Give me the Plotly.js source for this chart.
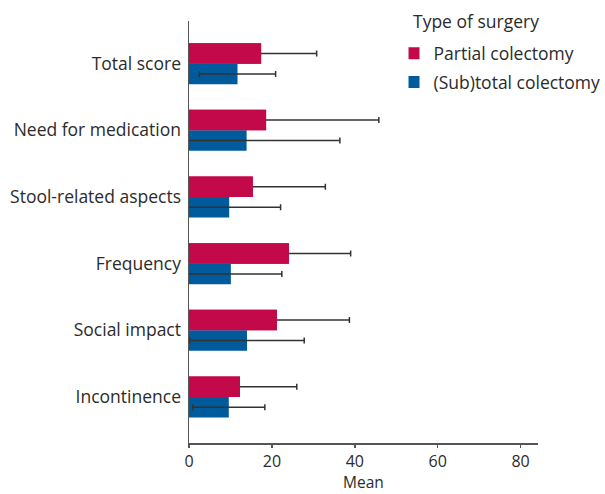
<!DOCTYPE html>
<html>
<head>
<meta charset="utf-8">
<script src="https://cdn.plot.ly/plotly-3.0.1.min.js"></script>
<style>html,body{margin:0;padding:0;background:#fff;}#chart{width:605px;height:494px;}</style>
</head>
<body>
<div id="chart"></div>
<script>
// Categories, bottom to top
var categories = ["Incontinence", "Social impact", "Frequency", "Stool-related aspects", "Need for medication", "Total score"];
// Partial colectomy (means and SD)
var partialMean = [12.3, 21.2, 24.1, 15.4, 18.6, 17.4];
var partialSD   = [13.7, 17.5, 14.9, 17.5, 27.2, 13.4];
// (Sub)total colectomy (means and SD)
var subtotalMean = [9.6, 14.0, 10.1, 9.7, 13.9, 11.7];
var subtotalSD   = [8.7, 13.8, 12.3, 12.4, 22.5, 9.2];
var xTicks = [0, 20, 40, 60, 80];

var fontFam = "Open Sans, sans-serif";
var txt = "#2b2b2b";
var fs = 17.5;
var pink = "#C4094A", blue = "#005B9C";
var barW = 0.3075;

var errStyle = {type: "data", symmetric: true, color: "#333333", thickness: 1.5, width: 3};

var traces = [
  // pink error bars drawn first, so the pink bar hides the lower half
  {
    type: "bar", orientation: "h", name: "Partial colectomy", showlegend: false, legendgroup: "a",
    y: categories, x: partialMean, width: barW, offset: 0,
    marker: {color: pink, line: {width: 0}},
    error_x: Object.assign({array: partialSD}, errStyle),
    hoverinfo: "skip"
  },
  {
    type: "bar", orientation: "h", name: "(Sub)total colectomy", legendrank: 2, legendgroup: "b",
    y: categories, x: subtotalMean, width: barW, offset: -barW,
    marker: {color: blue, line: {width: 0}},
    error_x: Object.assign({array: subtotalSD}, errStyle),
    hoverinfo: "x"
  },
  {
    type: "bar", orientation: "h", name: "Partial colectomy", legendrank: 1, legendgroup: "a",
    y: categories, x: partialMean, width: barW, offset: 0,
    marker: {color: pink, line: {width: 0}},
    hoverinfo: "x"
  }
];

var layout = {
  width: 605, height: 494,
  margin: {l: 189, r: 67, t: 21, b: 51, autoexpand: false},
  paper_bgcolor: "#fff", plot_bgcolor: "#fff",
  font: {family: fontFam, size: fs, color: txt},
  barmode: "overlay",
  showlegend: true,
  legend: {
    x: 0.629, xanchor: "left", y: 0.966, yanchor: "top",
    traceorder: "grouped", tracegroupgap: 3, indentation: -15,
    font: {family: fontFam, size: fs, color: txt},
    bgcolor: "rgba(0,0,0,0)"
  },
  annotations: [
    {
      text: "Type of surgery", xref: "paper", yref: "paper",
      x: 0.636, y: 1.0, xanchor: "left", yanchor: "middle", showarrow: false,
      font: {family: fontFam, size: fs, color: txt}
    },
    {
      text: "Mean", xref: "paper", yref: "paper",
      x: 0.5, y: -0.1209, xanchor: "center", yanchor: "bottom", showarrow: false,
      borderpad: 0,
      font: {family: fontFam, size: 15.5, color: txt}
    }
  ],
  xaxis: {
    range: [0, 84.2], tickvals: xTicks, ticktext: xTicks.map(String),
    showgrid: false, zeroline: false,
    showline: true, linecolor: "#555", linewidth: 1.5,
    ticks: "outside", ticklen: 3, tickwidth: 1.5, tickcolor: "#555",
    tickfont: {family: fontFam, size: 16, color: txt}
  },
  yaxis: {
    type: "category", categoryorder: "array", categoryarray: categories,
    range: [-0.69, 5.64],
    showgrid: false, zeroline: false,
    showline: true, linecolor: "#555", linewidth: 1.5,
    ticks: "", ticklabelstandoff: 3,
    tickfont: {family: fontFam, size: fs, color: txt}
  }
};

Plotly.newPlot("chart", traces, layout, {displayModeBar: false, staticPlot: true});
</script>
</body>
</html>
